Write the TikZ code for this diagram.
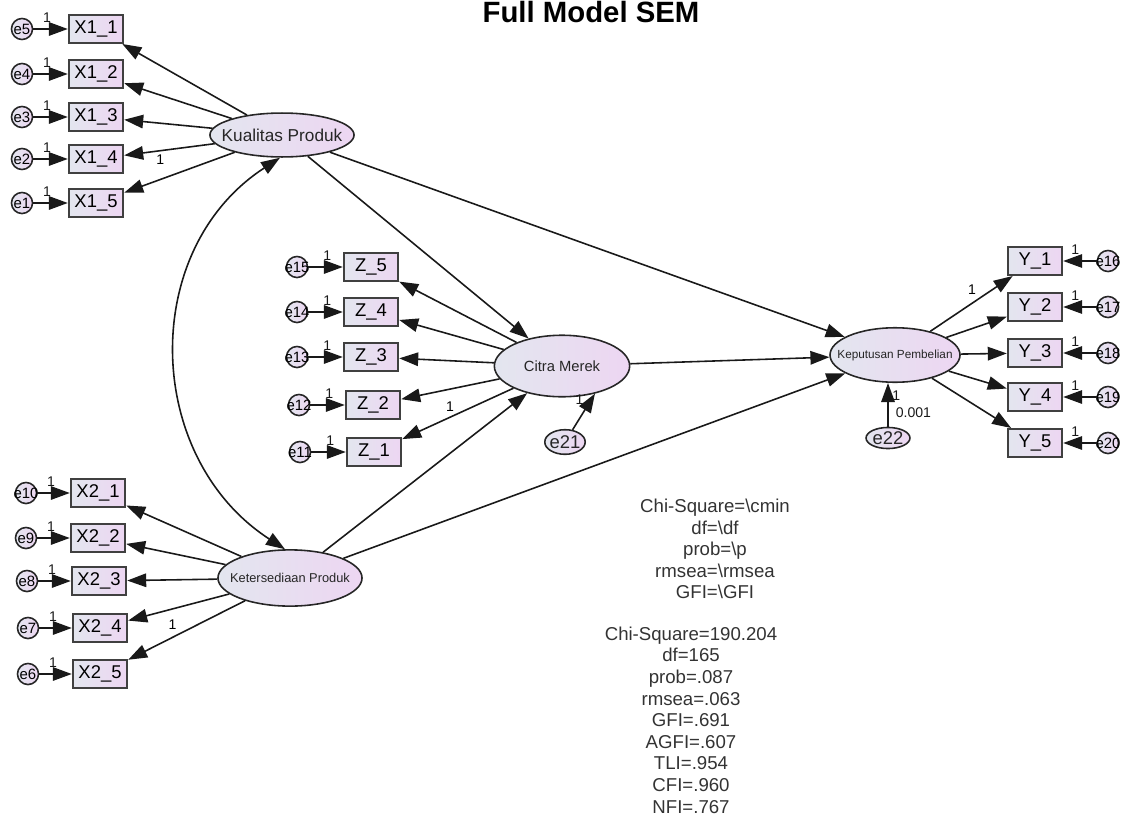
\documentclass[tikz,border=0pt]{standalone}
\usepackage{fontspec}
\setmainfont{Liberation Sans}
\usetikzlibrary{arrows.meta, shapes.geometric}
\definecolor{semlight}{HTML}{E3E6EF}
\definecolor{semlilac}{HTML}{EDD6F2}
\newcommand{\nowidth}[1]{\makebox[0pt]{#1}}

\begin{document}
\begin{tikzpicture}[
    x=0.02cm, y=-0.02cm,
    latent/.style={
        ellipse,
        draw=black!85,
        line width=0.9pt,
        left color=semlight,
        right color=semlilac,
        inner sep=0pt,
        text=black!85
    },
    indicator/.style={
        rectangle,
        draw=black!75,
        line width=1.1pt,
        left color=semlight,
        right color=semlilac,
        minimum width=31pt,
        minimum height=16pt,
        inner sep=0pt,
        font=\fontsize{10.5}{12}\selectfont
    },
    err/.style={
        circle,
        draw=black!85,
        line width=0.9pt,
        left color=semlight,
        right color=semlilac,
        minimum size=12pt,
        inner sep=0pt,
        font=\fontsize{8.5}{10}\selectfont
    },
    arrow/.style={
        -{Triangle[length=3.8mm, width=2.7mm]},
        line width=0.9pt,
        black!90
    },
    cov/.style={
        arrow,
        {Triangle[length=3.8mm, width=2.7mm]}-{Triangle[length=3.8mm, width=2.7mm]}
    },
    one/.style={
        font=\fontsize{8}{9}\selectfont,
        inner sep=1pt
    },
    stats/.style={
        align=center,
        text=black!80,
        font=\fontsize{10.6}{12.3}\selectfont
    }
]
\useasboundingbox (0,0) rectangle (1122,818);

\node[font=\fontsize{16.7}{20}\selectfont\bfseries, anchor=base] (title) at (591,22) {Full Model SEM};

% latent variables
\node[latent, minimum width=82pt, minimum height=25pt, font=\fontsize{9.8}{12}\selectfont] (kp) at (282,135) {\nowidth{Kualitas Produk}};
\node[latent, minimum width=77pt, minimum height=35pt, font=\fontsize{8.4}{10}\selectfont] (cm) at (562,366) {\nowidth{Citra Merek}};
\node[latent, minimum width=74pt, minimum height=31pt, font=\fontsize{6.7}{8}\selectfont] (kep) at (895,355) {\nowidth{Keputusan Pembelian}};
\node[latent, minimum width=82pt, minimum height=32pt, font=\fontsize{7.3}{9}\selectfont] (ket) at (290,578) {\nowidth{Ketersediaan Produk}};
\node[latent, minimum width=23pt, minimum height=14pt, font=\fontsize{10.5}{12}\selectfont] (e21) at (565,442) {\nowidth{e21}};
\node[latent, minimum width=25pt, minimum height=12pt, font=\fontsize{10.5}{12}\selectfont] (e22) at (888,438) {\nowidth{e22}};

% indicators
\foreach \i/\e/\yy in {1/5/29, 2/4/74, 3/3/117, 4/2/159, 5/1/203} {
    \node[indicator] (x1-\i) at (96,\yy) {X1\_\i};
    \node[err] (e\e) at (22,\yy) {\nowidth{e\e}};
    \draw[arrow] (e\e) -- (x1-\i) node[one, above=2pt, pos=0.4] {1};
    \draw[arrow] (kp) -- (x1-\i);
}
\foreach \i/\e/\xx/\yy in {5/15/371/267, 4/14/371/312, 3/13/371/357, 2/12/373/405, 1/11/374/452} {
    \node[indicator] (z-\i) at (\xx,\yy) {Z\_\i};
    \node[err] (e\e) at (\xx-74,\yy) {\nowidth{e\e}};
    \draw[arrow] (e\e) -- (z-\i) node[one, above=2pt, pos=0.55] {1};
    \draw[arrow] (cm) -- (z-\i);
}
\foreach \i/\e/\yy in {1/16/261, 2/17/307, 3/18/353, 4/19/397, 5/20/443} {
    \node[indicator] (y-\i) at (1035,\yy) {Y\_\i};
    \node[err] (e\e) at (1108,\yy) {\nowidth{e\e}};
    \draw[arrow] (e\e) -- (y-\i) node[one, above=2pt, pos=0.64] {1};
    \draw[arrow] (kep) -- (y-\i);
}
\foreach \i/\e/\xx/\yy in {1/10/98/493, 2/9/98/538, 3/8/99/581, 4/7/100/628, 5/6/100/674} {
    \node[indicator] (x2-\i) at (\xx,\yy) {X2\_\i};
    \node[err] (e\e) at (\xx-72,\yy) {\nowidth{e\e}};
    \draw[arrow] (e\e) -- (x2-\i) node[one, above=2pt, pos=0.42] {1};
    \draw[arrow] (ket) -- (x2-\i);
}

% fixed loadings
\path (kp) -- (x1-4) node[one, pos=0.6, below=1pt] {1};
\path (cm) -- (z-1) node[one, pos=0.57, above=2pt] {1};
\path (kep) -- (y-1) node[one, pos=0.6, above left=1pt] {1};
\path (ket) -- (x2-5) node[one, pos=0.62, above=3pt] {1};

% structural paths
\draw[arrow] (kp) -- (cm);
\draw[arrow] (kp) -- (kep);
\draw[arrow] (cm) -- (kep);
\draw[arrow] (ket) -- (cm);
\draw[arrow] (ket) -- (kep);
\draw[arrow] (e21) -- (cm.-40) node[one, pos=0.84, left=3pt] {1};
\draw[arrow] (e22) -- (e22 |- kep.south)
    node[one, pos=0.72, right=1pt] {1}
    node[one, pos=0.33, right=3pt] {0.001};
\draw[cov] (kp.265) to[out=213, in=147, looseness=1.1] (ket.100);

% fit statistics
\node[stats] (tmpl) at (715,549) {Chi-Square=\textbackslash cmin\\df=\textbackslash df\\prob=\textbackslash p\\rmsea=\textbackslash rmsea\\GFI=\textbackslash GFI};
\node[stats] (fit) at (691,720) {Chi-Square=190.204\\df=165\\prob=.087\\rmsea=.063\\GFI=.691\\AGFI=.607\\TLI=.954\\CFI=.960\\NFI=.767};

\end{tikzpicture}
\end{document}
